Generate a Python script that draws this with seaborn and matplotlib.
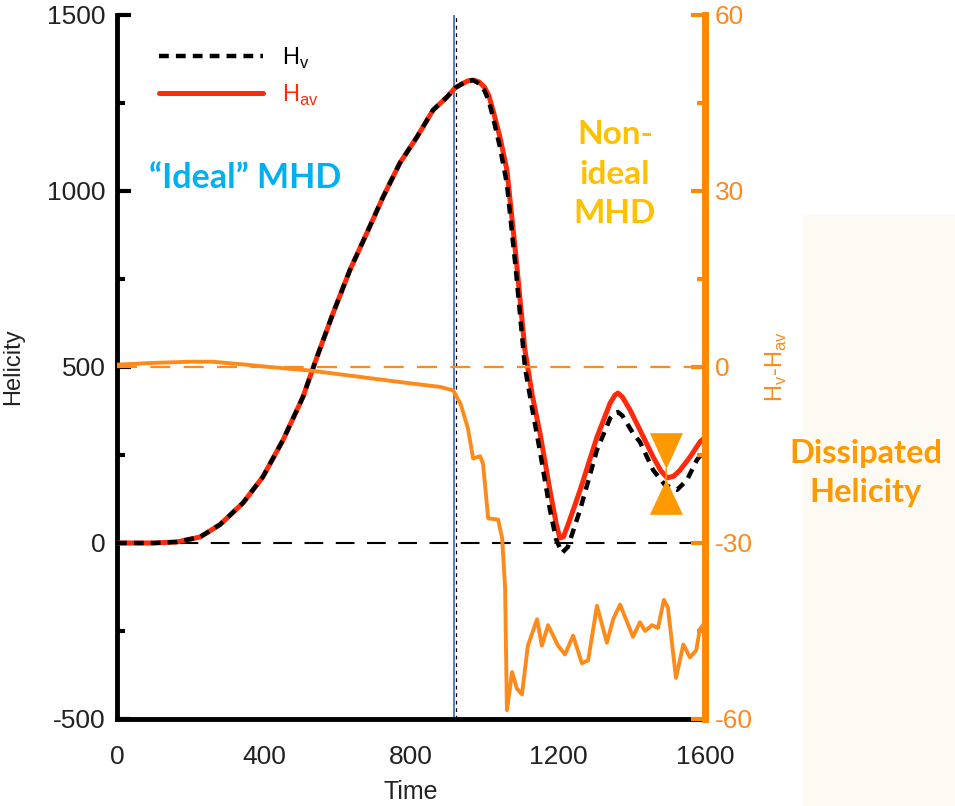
import numpy as np
import pandas as pd
import matplotlib
matplotlib.use("Agg")
import matplotlib.pyplot as plt
import seaborn as sns
from matplotlib.ticker import MultipleLocator
from matplotlib.patches import Rectangle

# ---------------- data ----------------
t_av = [0, 100, 163, 226, 280, 343, 397, 452, 506, 544, 588, 634, 680, 724, 770, 816,
        860, 898, 920, 940, 955, 969, 985, 1000, 1012, 1023, 1042, 1061, 1085, 1110,
        1130, 1151, 1178, 1195, 1205, 1215, 1230, 1260, 1306, 1342, 1355, 1363, 1375,
        1396, 1423, 1459, 1480, 1497, 1515, 1532, 1559, 1586, 1600]
h_av = [0, 0, 3, 17, 52, 114, 188, 293, 415, 528, 653, 776, 881, 983, 1080, 1153,
        1230, 1267, 1293, 1305, 1313, 1315, 1310, 1295, 1270, 1230, 1153, 1060, 820, 548,
        420, 312, 150, 55, 14, 18, 60, 150, 301, 398, 420, 426, 415, 378, 321, 244, 205,
        185, 190, 207, 244, 287, 300]

t_v = [0, 100, 163, 226, 280, 343, 397, 452, 506, 544, 588, 634, 680, 724, 770, 816,
       860, 898, 920, 940, 955, 969, 985, 1000, 1012, 1023, 1042, 1061, 1085, 1110,
       1130, 1151, 1178, 1195, 1211, 1227, 1260, 1306, 1342, 1355, 1363, 1375, 1404,
       1423, 1459, 1491, 1524, 1551, 1578, 1600]
h_v = [0, 0, 3, 17, 52, 114, 188, 293, 415, 528, 653, 776, 881, 983, 1080, 1153,
       1230, 1267, 1293, 1305, 1313, 1315, 1305, 1285, 1255, 1210, 1125, 1020, 780, 500,
       380, 260, 95, 10, -28, -11, 94, 264, 355, 370, 372, 362, 312, 287, 207, 165,
       151, 179, 236, 265]

t_d = [0, 100, 200, 260, 350, 450, 525, 600, 700, 800, 880, 915, 935, 955, 969, 988,
       996, 1010, 1037, 1048, 1056, 1061, 1075, 1088, 1102, 1118, 1143, 1156, 1173, 1200,
       1219, 1241, 1265, 1282, 1306, 1333, 1350, 1369, 1404, 1423, 1437, 1456, 1472,
       1488, 1499, 1521, 1541, 1559, 1576, 1586, 1600]
d_h = [0.4, 0.7, 0.9, 0.9, 0.4, -0.2, -0.6, -1.2, -2.0, -2.8, -3.4, -4.0, -6.3, -10.5,
       -15.6, -15.2, -16.5, -25.8, -26.0, -29.2, -37.5, -58.5, -52.0, -54.8, -55.8,
       -47.5, -43.0, -47.5, -44.0, -47.5, -49.0, -45.8, -50.5, -50.0, -40.7, -47.0,
       -43.0, -40.5, -46.0, -43.5, -45.0, -44.0, -44.5, -39.7, -41.0, -53.0, -47.3,
       -49.5, -48.3, -44.7, -43.5]

x_ticks = [0, 400, 800, 1200, 1600]
y_ticks = [-500, 0, 500, 1000, 1500]
y2_ticks = [-60, -30, 0, 30, 60]
t_transition = 920

# hourglass marker (dissipated helicity)
hg_x = 1495
hg_half_w = 45
hg_top = [312, 210]     # base, apex of upper triangle
hg_bot = [80, 180]      # base, apex of lower triangle

df_av = pd.DataFrame({"Time": t_av, "H": h_av})
df_v = pd.DataFrame({"Time": t_v, "H": h_v})
df_d = pd.DataFrame({"Time": t_d, "D": d_h})

# ---------------- style ----------------
sns.set_style("white")
plt.rcParams["font.family"] = ["Liberation Sans", "DejaVu Sans"]
plt.rcParams["axes.unicode_minus"] = False

RED = "#FF2A0A"
ORANGE = "#FF8A1C"
AXORANGE = "#FF8800"

W, H = 955, 806
fig = plt.figure(figsize=(W / 100, H / 100), dpi=100)
fig.patches.append(Rectangle((803 / W, 0), 1 - 803 / W, (H - 215) / H,
                             transform=fig.transFigure, color="#FDFAF4",
                             zorder=-5))

ax = fig.add_axes([117 / W, 1 - 719 / H, 588 / W, 704 / H])
ax.patch.set_alpha(0)

sns.lineplot(data=df_av, x="Time", y="H", ax=ax, color=RED, lw=3.6,
             label="H$_\\mathregular{av}$", zorder=3)
sns.lineplot(data=df_v, x="Time", y="H", ax=ax, color="black", lw=3.2,
             label="H$_\\mathregular{v}$", zorder=4)
line_v = ax.lines[-1]
line_v.set_dashes((2.2, 1.6))
for ln in ax.lines:
    ln.set_solid_joinstyle("round")
    ln.set_dash_joinstyle("round")

ax.axhline(0, color="black", lw=1.5, dashes=(9, 6), zorder=1)
ax.axvline(t_transition - 2, color="#4472C4", lw=1.3, zorder=2)
ax.axvline(t_transition + 2, color="black", lw=0.9, dashes=(3, 3), zorder=2)

# hourglass
ax.fill([hg_x - hg_half_w, hg_x + hg_half_w, hg_x], [hg_top[0], hg_top[0], hg_top[1]],
        color="#FF9900", lw=0, zorder=6)
ax.fill([hg_x - hg_half_w, hg_x + hg_half_w, hg_x], [hg_bot[0], hg_bot[0], hg_bot[1]],
        color="#FF9900", lw=0, zorder=6)
ax.plot([hg_x, hg_x], [hg_bot[1], hg_top[1]], color="#FF9900", lw=1.2, zorder=6)

ax.set_xlim(0, 1600)
ax.set_ylim(-500, 1500)
ax.set_xticks(x_ticks)
ax.set_yticks(y_ticks)
ax.xaxis.set_minor_locator(MultipleLocator(200))
ax.yaxis.set_minor_locator(MultipleLocator(250))
ax.tick_params(axis="both", which="major", direction="in", length=10, width=3,
               labelsize=19, colors="black", labelcolor="#222222")
ax.tick_params(axis="both", which="minor", direction="in", length=6, width=3,
               colors="black")
ax.tick_params(axis="x", pad=19)
ax.tick_params(axis="y", pad=8, right=False)
for s in ["top", "right"]:
    ax.spines[s].set_visible(False)
for s in ["left", "bottom"]:
    ax.spines[s].set_linewidth(3.5)
    ax.spines[s].set_color("black")

ax.set_xlabel("Time", fontsize=18, color="#222222")
ax.set_ylabel("Helicity", fontsize=17, color="#222222")
ax.xaxis.set_label_coords(0.5, -0.086)
ax.yaxis.set_label_coords(-0.158, 0.50)

handles, labels = ax.get_legend_handles_labels()
ax.legend([handles[1], handles[0]], [labels[1], labels[0]], loc="upper left",
          bbox_to_anchor=(0.055, 0.97), frameon=False, fontsize=17,
          handlelength=4.4, labelcolor="linecolor", borderaxespad=0)

# ---------------- right axis ----------------
ax2 = ax.twinx()
sns.lineplot(data=df_d, x="Time", y="D", ax=ax2, color=ORANGE, lw=2.8, zorder=3)
ax2.lines[-1].set_solid_joinstyle("round")
ax2.axhline(0, color=ORANGE, lw=1.6, dashes=(9, 6), zorder=1)
ax2.set_ylim(-60, 60)
ax2.set_yticks(y2_ticks)
ax2.yaxis.set_minor_locator(MultipleLocator(15))
ax2.tick_params(axis="y", which="major", direction="in", length=10, width=3,
                colors=AXORANGE, labelcolor=ORANGE, labelsize=19, pad=7)
ax2.tick_params(axis="y", which="minor", direction="in", length=6, width=3,
                colors=AXORANGE)
for s in ["top", "left", "bottom"]:
    ax2.spines[s].set_visible(False)
ax2.spines["right"].set_linewidth(5)
ax2.spines["right"].set_color(AXORANGE)
ax2.set_xlabel("")
ax2.set_ylabel("H$_\\mathregular{v}$-H$_\\mathregular{av}$", fontsize=17, color=ORANGE)
ax2.yaxis.set_label_coords(1.10, 0.50)

# ---------------- annotations ----------------
fig.text(245 / W, 1 - 178 / H, "\u201cIdeal\u201d MHD", color="#00B0F0",
         fontsize=24.5, fontweight="bold", family=["Lato", "DejaVu Sans"],
         ha="center", va="center")
fig.text(615 / W, 1 - 174 / H, "Non-\nideal\nMHD", color="#FFC000",
         fontsize=24, fontweight="bold", family=["Lato", "DejaVu Sans"],
         ha="center", va="center", linespacing=1.45)
fig.text(866 / W, 1 - 473 / H, "Dissipated\nHelicity", color="#FF9900",
         fontsize=23.5, fontweight="bold", family=["Lato", "DejaVu Sans"],
         ha="center", va="center", linespacing=1.4)

fig.savefig("out.png", dpi=100)
